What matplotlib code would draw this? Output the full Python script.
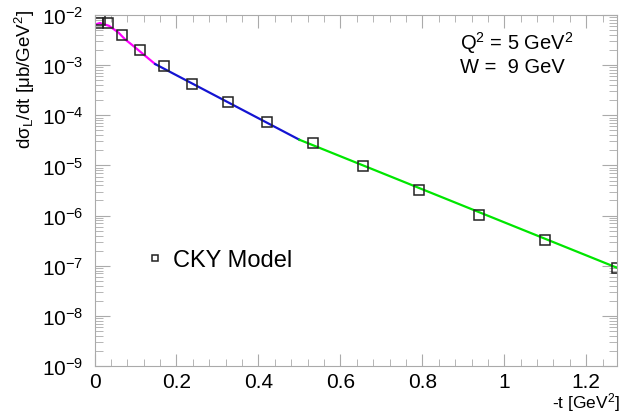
import matplotlib
matplotlib.use("Agg")
from matplotlib import pyplot as plt
from matplotlib.ticker import MultipleLocator, LogLocator, NullFormatter

plt.rcParams['font.family'] = ['Liberation Sans', 'DejaVu Sans']
plt.rcParams['mathtext.fontset'] = 'custom'
plt.rcParams['mathtext.rm'] = 'Liberation Sans'
plt.rcParams['mathtext.it'] = 'Liberation Sans:italic'
plt.rcParams['mathtext.bf'] = 'Liberation Sans:bold'

# CKY model points (-t, dsigma_L/dt)
t_pts = [0.008, 0.013, 0.034, 0.066, 0.111, 0.169, 0.239, 0.325, 0.421,
         0.532, 0.654, 0.791, 0.939, 1.100, 1.274]
xs_pts = [6.8e-3, 7.9e-3, 6.8e-3, 3.9e-3, 2.03e-3, 9.7e-4, 4.3e-4, 1.81e-4,
          7.3e-5, 2.8e-5, 9.8e-6, 3.3e-6, 1.05e-6, 3.2e-7, 9.2e-8]

# fitted curves
t_mag = [0.0, 0.013, 0.035, 0.058, 0.074, 0.099, 0.123, 0.148]
xs_mag = [6.4e-3, 6.9e-3, 6.1e-3, 4.5e-3, 3.3e-3, 2.26e-3, 1.55e-3, 1.05e-3]
t_blue = [0.148, 0.5]
xs_blue = [1.05e-3, 3.25e-5]
t_green = [0.5, 1.275]
xs_green = [3.25e-5, 9.1e-8]

fig = plt.figure(figsize=(6.23, 4.14), dpi=100)
ax = fig.add_axes([0.1517, 0.1135, 0.8387, 0.8479])

ax.plot(t_mag, xs_mag, color='#ff00ff', lw=1.6)
ax.plot(t_blue, xs_blue, color='#1414d2', lw=1.6)
ax.plot(t_green, xs_green, color='#00e600', lw=1.6)
pts, = ax.plot(t_pts, xs_pts, ls='none', marker='s', ms=6.5, mfc='none',
               mec='#222222', mew=1.1, label='CKY Model')

ax.set_yscale('log')
ax.set_xlim(0, 1.275)
ax.set_ylim(1e-9, 1e-2)

ax.xaxis.set_major_locator(MultipleLocator(0.2))
ax.xaxis.set_minor_locator(MultipleLocator(0.04))
ax.yaxis.set_major_locator(LogLocator(base=10, numticks=20))
ax.yaxis.set_minor_locator(LogLocator(base=10, subs=range(2, 10), numticks=20))
ax.yaxis.set_minor_formatter(NullFormatter())
ax.xaxis.set_major_formatter(plt.FuncFormatter(lambda v, p: '%g' % round(v, 2)))

for s in ax.spines.values():
    s.set_color('#aaaaaa')
ax.tick_params(which='both', direction='in', top=True, right=True,
               color='#aaaaaa', labelsize=15)
ax.tick_params(axis='x', which='major', length=9, pad=4)
ax.tick_params(axis='x', which='minor', length=5)
ax.tick_params(axis='y', which='major', length=11, pad=8)
ax.tick_params(axis='y', which='minor', length=6)

fig.text(0.995, 0.0, '-t [GeV$^2$]', ha='right', va='bottom', fontsize=12.5)
fig.text(0.04, 0.975, 'dσ$_{\\mathrm{L}}$/dt [μb/GeV$^2$]', rotation=90,
         ha='center', va='top', fontsize=13.5)

ax.text(0.70, 0.922, 'Q$^2$ = 5 GeV$^2$', transform=ax.transAxes,
        fontsize=14.5, va='center')
ax.text(0.70, 0.852, 'W =  9 GeV', transform=ax.transAxes,
        fontsize=14.5, va='center')

ax.legend(handles=[pts], loc='center left', bbox_to_anchor=(0.098, 0.302),
          frameon=False, fontsize=17, markerscale=0.75, handlelength=0.8,
          handletextpad=0.36, borderpad=0, borderaxespad=0)

fig.savefig('out.png', dpi=100)
